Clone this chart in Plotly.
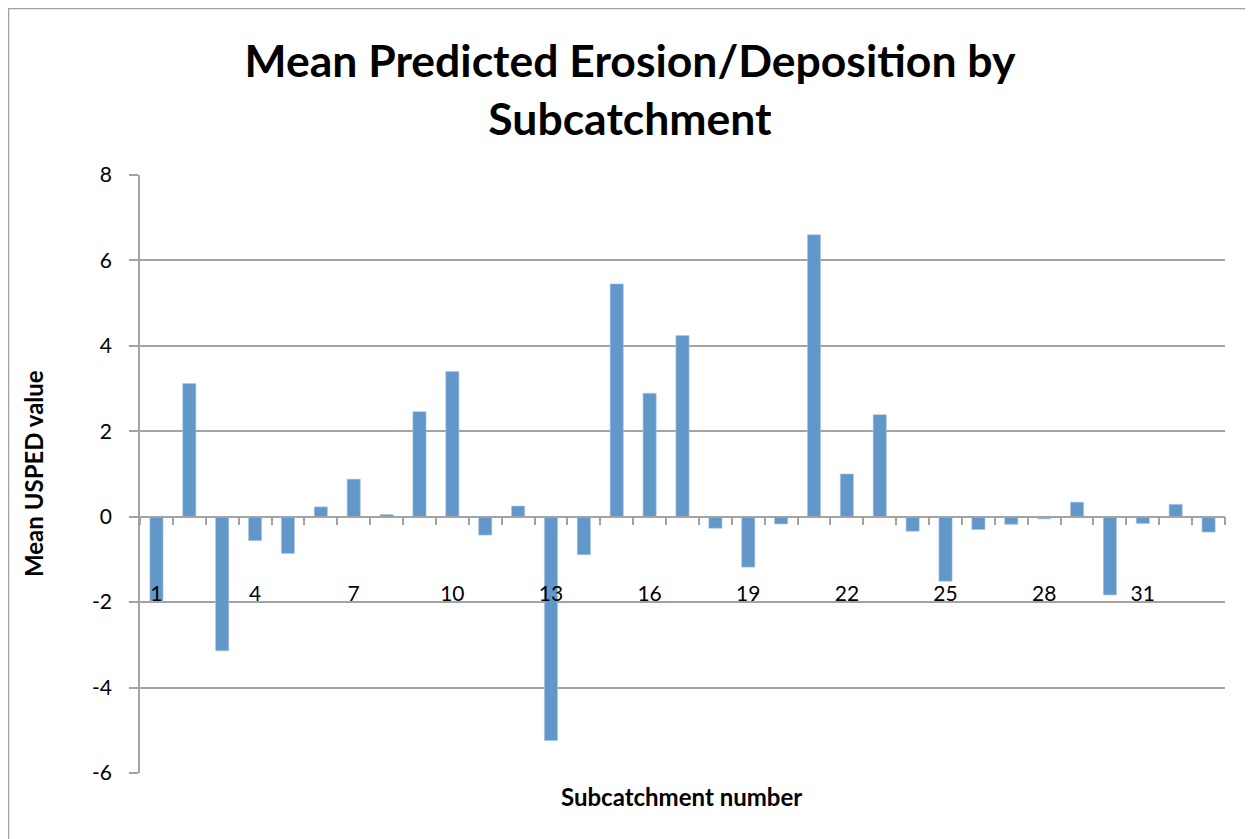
import plotly.graph_objects as go

# ---- data ----
subcatchments = list(range(1, 34))
mean_usped = [-1.98, 3.12, -3.14, -0.56, -0.86, 0.23, 0.88, 0.05, 2.46, 3.40,
              -0.43, 0.25, -5.24, -0.89, 5.45, 2.89, 4.24, -0.27, -1.18, -0.17,
              6.60, 1.00, 2.39, -0.34, -1.51, -0.30, -0.18, -0.05, 0.34, -1.83,
              -0.16, 0.29, -0.36]
y_ticks = [-6, -4, -2, 0, 2, 4, 6, 8]
y_tick_text = ["-6", "-4", "-2", "0", "2", "4", "6", "8"]
x_label_cats = [1, 4, 7, 10, 13, 16, 19, 22, 25, 28, 31]

title_text = "Mean Predicted Erosion/Deposition by<br>Subcatchment"
y_title = "Mean USPED value"
x_title = "Subcatchment number"

# ---- layout geometry (figure pixels; page has an 8px body offset) ----
W, H = 1253, 839
OFF = 8
PL, PR, PT, PB = 140 - OFF, 1225 - OFF, 175 - OFF, 773 - OFF
YMIN, YMAX = -6, 8


def px2x(px):
    return (px - OFF - PL) / (PR - PL)


def py2y(py):
    return (PB - (py - OFF)) / (PB - PT)


FONT = "Lato"
GRID = "#A3A3A3"
BAR = "#6297CA"

fig = go.Figure()
fig.add_trace(go.Bar(
    x=subcatchments, y=mean_usped,
    marker=dict(color=BAR, line=dict(color="#A9C8E8", width=0.6)),
    width=0.4, showlegend=False,
))
# helper trace for the category-boundary axis drawn at zero
fig.add_trace(go.Scatter(x=[], y=[], xaxis="x2", showlegend=False))

zero_pos = (0 - YMIN) / (YMAX - YMIN)
label_pos = py2y(579)

fig.update_layout(
    width=W, height=H, autosize=False,
    margin=dict(l=PL, r=W - PR, t=PT, b=H - PB),
    paper_bgcolor="white", plot_bgcolor="white",
    font=dict(family=FONT, color="black"),
    title=dict(
        text=title_text,
        font=dict(family=FONT, size=44.5, color="black", weight="bold"),
        x=(630 - OFF) / W, xanchor="center", xref="container",
        y=1 - 69 / H, yanchor="top", yref="container",
    ),
    xaxis=dict(
        range=[0.5, 33.5], tickmode="array",
        tickvals=x_label_cats, ticktext=[str(v) for v in x_label_cats],
        anchor="free", position=label_pos,
        showline=False, ticks="", showgrid=False, zeroline=False,
        tickfont=dict(family=FONT, size=21, color="black"),
    ),
    xaxis2=dict(
        overlaying="x", matches="x", range=[0.5, 33.5],
        anchor="free", position=zero_pos,
        showline=True, linecolor=GRID, linewidth=1.5,
        ticks="outside", ticklen=8, tickcolor=GRID, tickwidth=1.5,
        tickmode="array", tickvals=[i + 0.5 for i in range(0, 34)],
        showticklabels=False, showgrid=False, zeroline=False,
    ),
    yaxis=dict(
        range=[YMIN, YMAX], tickmode="array", tickvals=y_ticks,
        ticktext=y_tick_text,
        showgrid=True, gridcolor=GRID, gridwidth=1.5,
        showline=True, linecolor=GRID, linewidth=1.5,
        ticks="outside", ticklen=9, tickcolor=GRID, tickwidth=1.5,
        zeroline=False, ticklabelstandoff=13,
        tickfont=dict(family=FONT, size=21, color="black"),
    ),
    bargap=0.6,
    shapes=[
        dict(type="rect", xref="paper", yref="paper",
             x0=px2x(OFF + 0.5), x1=px2x(W + 60), y0=py2y(H + 60),
             y1=py2y(OFF + 0.5),
             line=dict(color="#A0A0A0", width=1.5), fillcolor="rgba(0,0,0,0)",
             layer="below"),
    ],
    annotations=[
        dict(text=y_title, xref="paper", yref="paper",
             x=px2x(33), y=py2y(474), xanchor="center", yanchor="middle",
             textangle=-90, showarrow=False,
             font=dict(family=FONT, size=24, color="black", weight="bold")),
        dict(text=x_title, xref="paper", yref="paper",
             x=px2x(681), y=py2y(796), xanchor="center", yanchor="middle",
             showarrow=False,
             font=dict(family=FONT, size=24, color="black", weight="bold")),
    ],
)

fig.write_html("out.html")
